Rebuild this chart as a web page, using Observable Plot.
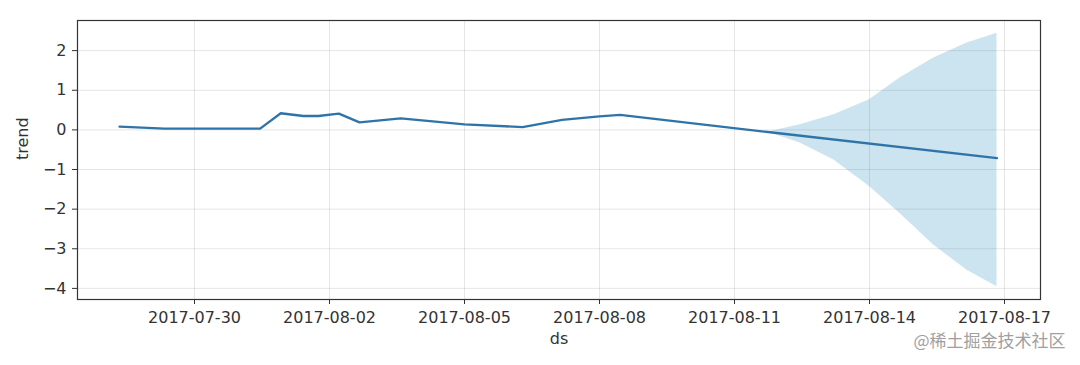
<!DOCTYPE html>
<html>
<head>
<meta charset="utf-8">
<script src="https://cdn.jsdelivr.net/npm/d3@7"></script>
<script src="https://cdn.jsdelivr.net/npm/@observablehq/plot@0.6"></script>
<style>
  html, body { margin: 0; padding: 0; background: #fff; }
  #chart { width: 1080px; height: 365px; }
</style>
</head>
<body>
<div id="chart"></div>
<script>
// Trend line (history + forecast)
const trendDates = [
  "2017-07-28T08:00", "2017-07-29T08:00", "2017-07-31T11:00", "2017-07-31T22:00",
  "2017-08-01T10:00", "2017-08-01T18:00", "2017-08-02T05:00", "2017-08-02T16:00",
  "2017-08-03T14:00", "2017-08-05T00:00", "2017-08-06T07:00", "2017-08-07T04:00",
  "2017-08-08T00:00", "2017-08-08T11:00", "2017-08-11T19:00", "2017-08-16T20:00"
];
const trendValues = [
  0.08, 0.03, 0.03, 0.42,
  0.35, 0.35, 0.41, 0.19,
  0.29, 0.14, 0.07, 0.25,
  0.34, 0.38, -0.06, -0.71
];
// Uncertainty band (forecast period)
const bandDates = [
  "2017-08-11T19:00", "2017-08-12T11:00", "2017-08-13T05:00", "2017-08-14T00:00",
  "2017-08-14T16:00", "2017-08-15T10:00", "2017-08-16T04:00", "2017-08-16T20:00"
];
const bandUpper = [-0.04, 0.13, 0.38, 0.76, 1.30, 1.81, 2.19, 2.44];
const bandLower = [-0.08, -0.33, -0.76, -1.43, -2.10, -2.90, -3.54, -3.96];
// Axis ticks
const xTickLabels = ["2017-07-30", "2017-08-02", "2017-08-05", "2017-08-08", "2017-08-11", "2017-08-14", "2017-08-17"];
const yTicks = [-4, -3, -2, -1, 0, 1, 2];

const parse = s => new Date(s + "Z");
const trend = trendDates.map((d, i) => ({ds: parse(d), trend: trendValues[i]}));
const band = bandDates.map((d, i) => ({ds: parse(d), upper: bandUpper[i], lower: bandLower[i]}));
const xTicks = xTickLabels.map(s => parse(s + "T00:00"));

const lineColor = "#2f74a8";
const fillColor = "#0072B2";
const ink = "#333";
const fmtY = d => d < 0 ? "\u2212" + Math.abs(d) : String(d);

const chart = Plot.plot({
  width: 1080,
  height: 365,
  marginLeft: 77,
  marginTop: 20,
  marginRight: 40,
  marginBottom: 66,
  style: { fontFamily: "DejaVu Sans, sans-serif", fontSize: "16px", color: ink, background: "#fff" },
  x: { type: "utc", domain: [parse("2017-07-27T09:36"), parse("2017-08-17T19:12")] },
  y: { domain: [-4.28, 2.76] },
  marks: [
    Plot.gridX(xTicks, { stroke: "#808080", strokeOpacity: 0.2, strokeWidth: 1 }),
    Plot.gridY(yTicks, { stroke: "#808080", strokeOpacity: 0.2, strokeWidth: 1 }),
    Plot.areaY(band, { x: "ds", y1: "lower", y2: "upper", fill: fillColor, fillOpacity: 0.2 }),
    Plot.line(trend, { x: "ds", y: "trend", stroke: lineColor, strokeWidth: 2.3 }),
    Plot.frame({ stroke: ink, strokeWidth: 1.2 }),
    Plot.axisX({ ticks: xTicks, tickFormat: d3.utcFormat("%Y-%m-%d"), tickSize: 5, tickPadding: 7, label: null, stroke: ink, fill: ink }),
    Plot.axisY({ ticks: yTicks, tickFormat: fmtY, tickSize: 5, tickPadding: 6, label: null, stroke: ink, fill: ink }),
    Plot.text([0], { frameAnchor: "left", text: () => "trend", rotate: -90, dx: -55, fill: ink, fontSize: 16 }),
    Plot.text([0], { frameAnchor: "bottom", text: () => "ds", dy: 44, fill: ink, fontSize: 16 }),
    Plot.text([0], { frameAnchor: "bottom-right", text: () => "@稀土掘金技术社区", dx: 25, dy: 47, textAnchor: "end", fill: "#a0a0a0", fontSize: 17, fontFamily: "Noto Sans CJK SC, sans-serif" })
  ]
});
document.getElementById("chart").appendChild(chart);
</script>
</body>
</html>
